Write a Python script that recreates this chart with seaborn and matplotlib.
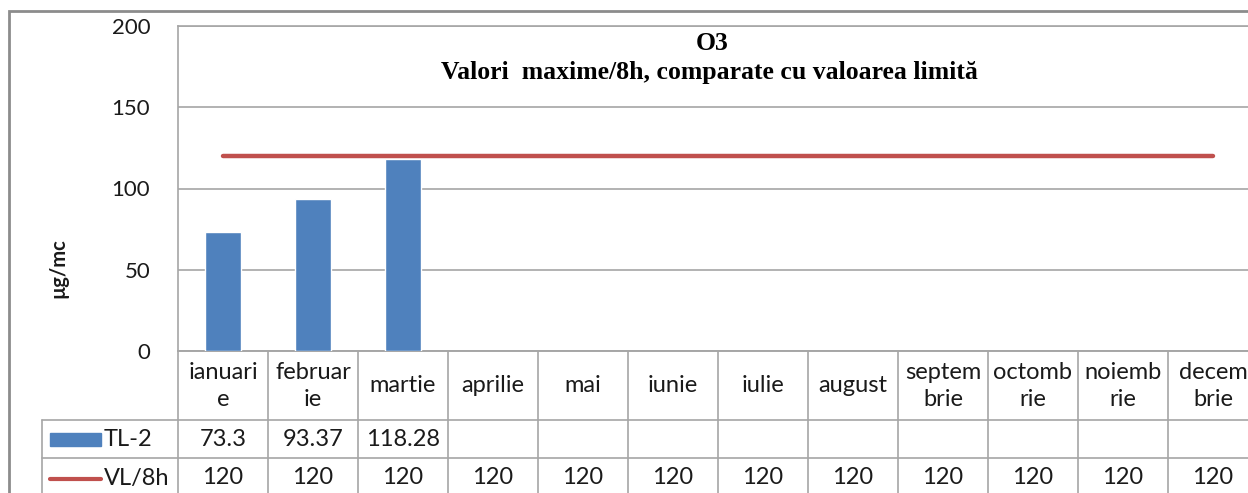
import numpy as np
import pandas as pd
import matplotlib
matplotlib.use("Agg")
import matplotlib.pyplot as plt
import matplotlib.transforms as mtransforms
from matplotlib.patches import Rectangle
from matplotlib.lines import Line2D
import seaborn as sns

# date
luni = ["ianuari\ne", "februar\nie", "martie", "aprilie", "mai", "iunie",
        "iulie", "august", "septem\nbrie", "octomb\nrie", "noiemb\nrie", "decem\nbrie"]
tl2 = [73.3, 93.37, 118.28, None, None, None, None, None, None, None, None, None]
vl8h = [120] * 12
tl2_text = ["73.3", "93.37", "118.28", "", "", "", "", "", "", "", "", ""]
vl_text = ["120"] * 12

albastru = "#4F81BD"
rosu = "#C0504D"
gri = "#A6A6A6"
text_c = "#1a1a1a"

sns.set_theme(style="white")
plt.rcParams["font.family"] = ["Lato", "DejaVu Sans"]

W, H = 1248, 493
fig = plt.figure(figsize=(W / 100, H / 100), dpi=100)

# zona graficului (in pixeli din imagine)
x0, x1, y0, y1 = 178, 1258, 26, 351
ax = fig.add_axes([x0 / W, 1 - y1 / H, (x1 - x0) / W, (y1 - y0) / H])

df = pd.DataFrame({"luna": range(12), "TL-2": tl2, "VL/8h": vl8h})
sns.barplot(data=df, x="luna", y="TL-2", color=albastru, width=0.41,
            saturation=1, ax=ax, zorder=3)
ax.plot(df["luna"], df["VL/8h"], color=rosu, lw=3.2,
        solid_capstyle="round", zorder=4)

ax.set_xlim(-0.5, 11.5)
ax.set_ylim(0, 200)
ax.set_yticks([0, 50, 100, 150, 200])
ax.set_yticklabels(["0", "50", "100", "150", "200"])
ax.tick_params(axis="y", labelsize=16, colors=text_c, length=0, pad=20)
ax.set_xticks([])
ax.set_xlabel("")
ax.set_ylabel("")
ax.grid(axis="y", color=gri, lw=1.2)
ax.grid(axis="x", visible=False)
for s in ax.spines.values():
    s.set_color(gri)
    s.set_linewidth(1.2)

# titlu
fig.text(712 / W, 1 - 43 / H, "O3", ha="center", va="center", fontsize=18.5,
         fontweight="bold", family="Liberation Serif", color="black")
fig.text(709 / W, 1 - 73 / H, "Valori  maxime/8h, comparate cu valoarea limită",
         ha="center", va="center", fontsize=18.5, fontweight="bold",
         family="Liberation Serif", color="black")

# eticheta axei y
fig.text(58 / W, 1 - 268 / H, "µg/mc", rotation=90, ha="center", va="center",
         fontsize=14.5, fontweight="bold", color=text_c)

# tabel de date sub grafic
tr = mtransforms.blended_transform_factory(ax.transData, ax.transAxes)

def ya(py):
    return (y1 - py) / (y1 - y0)

r_head, r1, r2, r3 = ya(351), ya(420), ya(458), ya(498)
xl = -0.5 - 136 / 90

def linie(xs, ys):
    ax.add_line(Line2D(xs, ys, transform=tr, color=gri, lw=1.2, clip_on=False))

linie([-0.5, -0.5], [r_head, r3])
for i in range(12):
    linie([i + 0.5, i + 0.5], [r_head, r3])
linie([-0.5, 11.5], [r_head, r_head])
linie([xl, 11.5], [r1, r1])
linie([xl, 11.5], [r2, r2])
linie([xl, xl], [r1, r3])

fs = 17
for i, lab in enumerate(luni):
    ax.text(i, ya(386), lab, transform=tr, ha="center", va="center",
            fontsize=fs, color=text_c, linespacing=1.3, clip_on=False)
    ax.text(i, ya(440), tl2_text[i], transform=tr, ha="center", va="center",
            fontsize=fs, color=text_c, clip_on=False)
    ax.text(i, ya(478), vl_text[i], transform=tr, ha="center", va="center",
            fontsize=fs, color=text_c, clip_on=False)

# legenda in tabel
kx0 = -0.5 - 128 / 90
kx1 = -0.5 - 77 / 90
ax.add_patch(Rectangle((kx0, ya(446)), kx1 - kx0, ya(433) - ya(446),
                       transform=tr, color=albastru, clip_on=False))
ax.text(kx1 + 0.03, ya(440), "TL-2", transform=tr, ha="left", va="center",
        fontsize=fs, color=text_c, clip_on=False)
ax.add_line(Line2D([-0.5 - 128 / 90, kx1], [ya(479), ya(479)], transform=tr,
                   color=rosu, lw=3, solid_capstyle="round", clip_on=False))
ax.text(kx1 + 0.03, ya(478), "VL/8h", transform=tr, ha="left",
        va="center", fontsize=fs, color=text_c, clip_on=False)

# chenarul exterior
fig.add_artist(Rectangle((9 / W, -0.1), 1.2, 1 - 11 / H + 0.1,
                         transform=fig.transFigure, fill=False,
                         edgecolor="#8C8C8C", lw=2))

fig.savefig("out.png", dpi=100)
